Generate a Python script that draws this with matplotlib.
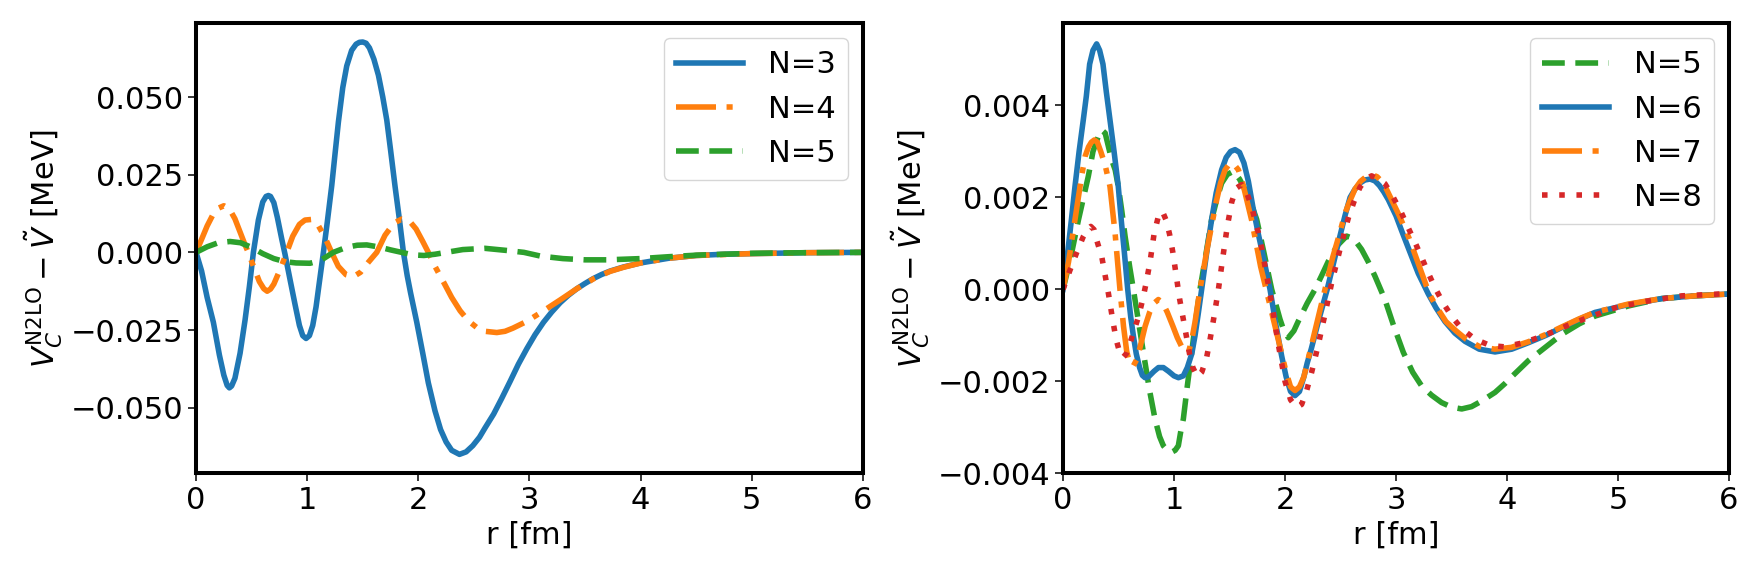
import numpy as np
import matplotlib
matplotlib.use("Agg")
import matplotlib.pyplot as plt
from matplotlib.ticker import MultipleLocator

# left panel: N=3, 4, 5  (r in fm, values in MeV)
r_n3 = [0.0, 0.05, 0.10, 0.156, 0.21, 0.25, 0.28, 0.30, 0.32, 0.35, 0.396, 0.441, 0.48, 0.516, 0.561,
        0.60, 0.63, 0.651, 0.67, 0.70, 0.732, 0.77, 0.80, 0.85, 0.891, 0.93, 0.96, 0.99, 1.02, 1.05,
        1.08, 1.11, 1.146, 1.18, 1.221, 1.25, 1.281, 1.32, 1.356, 1.40, 1.44, 1.47, 1.50, 1.53, 1.56,
        1.60, 1.641, 1.68, 1.716, 1.75, 1.791, 1.83, 1.866, 1.90, 1.93, 1.986, 2.04, 2.09, 2.15, 2.20,
        2.25, 2.30, 2.37, 2.43, 2.49, 2.55, 2.60, 2.678, 2.75, 2.826, 2.90, 2.976, 3.05, 3.126, 3.2,
        3.276, 3.35, 3.426, 3.5, 3.576, 3.65, 3.726, 3.846, 4.0, 4.25, 4.5, 4.75, 5.0, 5.5, 6.0]
v_n3 = [0.0, -0.006, -0.0145, -0.0225, -0.033, -0.0395, -0.0428, -0.0436, -0.0430, -0.0405, -0.0325,
        -0.0218, -0.011, 0.0, 0.0104, 0.0162, 0.0180, 0.0183, 0.0180, 0.0160, 0.0112, 0.0045, -0.0005,
        -0.0095, -0.0168, -0.0235, -0.0268, -0.0277, -0.0268, -0.0235, -0.0175, -0.0095, 0.0, 0.0095,
        0.0215, 0.0315, 0.0420, 0.0530, 0.0600, 0.0650, 0.0670, 0.0676, 0.0677, 0.0673, 0.0658,
        0.0622, 0.0570, 0.0500, 0.0426, 0.0330, 0.0211, 0.0105, 0.0, -0.0075, -0.013, -0.0225,
        -0.0325, -0.042, -0.051, -0.057, -0.061, -0.0637, -0.0650, -0.0642, -0.0622, -0.0595,
        -0.0565, -0.0520, -0.0470, -0.0415, -0.036, -0.031, -0.0265, -0.0225, -0.0192, -0.0162,
        -0.0138, -0.0117, -0.0100, -0.0084, -0.0071, -0.0060, -0.0047, -0.0034, -0.0019, -0.0010,
        -0.0006, -0.0004, -0.0001, 0.0]

r_n4 = [0.0, 0.05, 0.10, 0.15, 0.20, 0.25, 0.30, 0.35, 0.40, 0.44, 0.47, 0.52, 0.57, 0.61, 0.64, 0.67,
        0.70, 0.76, 0.816, 0.87, 0.93, 0.98, 1.04, 1.09, 1.16, 1.22, 1.28, 1.35, 1.416, 1.48, 1.55,
        1.626, 1.70, 1.78, 1.85, 1.92, 1.98, 2.04, 2.09, 2.15, 2.226, 2.30, 2.376, 2.45, 2.526, 2.60,
        2.706, 2.78, 2.85, 2.976, 3.126, 3.276, 3.426, 3.576, 3.726, 3.846, 4.0, 4.25, 4.5, 5.0, 5.5,
        6.0]
v_n4 = [0.0, 0.0042, 0.0085, 0.0120, 0.0142, 0.0150, 0.0140, 0.0108, 0.0062, 0.0025, 0.0, -0.0048,
        -0.0094, -0.0117, -0.0125, -0.0118, -0.0102, -0.0052, 0.0, 0.0052, 0.0090, 0.0104, 0.0106,
        0.0093, 0.0048, 0.0, -0.0045, -0.0072, -0.0078, -0.0064, -0.0032, 0.0, 0.0055, 0.0094,
        0.0107, 0.0101, 0.0075, 0.0035, 0.0, -0.0045, -0.0095, -0.0145, -0.0188, -0.0220, -0.0242,
        -0.0254, -0.0258, -0.0254, -0.0244, -0.0222, -0.0188, -0.0153, -0.0117, -0.0085, -0.0061,
        -0.0048, -0.0034, -0.0019, -0.0010, -0.0004, -0.0001, 0.0]

r_n5 = [0.0, 0.1, 0.2, 0.306, 0.4, 0.5, 0.6, 0.7, 0.8, 0.9, 1.026, 1.12, 1.236, 1.35, 1.45, 1.536, 1.65,
        1.75, 1.85, 1.95, 2.05, 2.15, 2.25, 2.4, 2.6, 2.8, 2.95, 3.1, 3.3, 3.5, 3.7, 4.0, 4.25, 4.5,
        4.75, 5.0, 5.5, 6.0]
v_n5 = [0.0, 0.0018, 0.0031, 0.0035, 0.0031, 0.0016, -0.0004, -0.002, -0.003, -0.0034, -0.0035,
        -0.0026, 0.0, 0.0016, 0.0023, 0.0024, 0.0017, 0.0008, 0.0, -0.0008, -0.001, -0.0006, 0.0,
        0.0009, 0.0013, 0.0006, 0.0, -0.0012, -0.002, -0.0024, -0.0024, -0.002, -0.0014, -0.0009,
        -0.0006, -0.0003, -0.0001, 0.0]

# right panel: N=5, 6, 7, 8
r_b5 = [0.0, 0.07, 0.138, 0.185, 0.228, 0.27, 0.318, 0.348, 0.38, 0.41, 0.438, 0.47, 0.498, 0.53,
        0.559, 0.60, 0.634, 0.68, 0.724, 0.78, 0.829, 0.87, 0.904, 0.94, 0.979, 1.01, 1.039, 1.06,
        1.084, 1.12, 1.159, 1.20, 1.234, 1.29, 1.339, 1.39, 1.429, 1.48, 1.535, 1.59, 1.64, 1.69,
        1.745, 1.81, 1.88, 1.955, 1.99, 2.03, 2.08, 2.12, 2.2, 2.27, 2.33, 2.39, 2.47, 2.555, 2.62,
        2.69, 2.75, 2.81, 2.9, 2.98, 3.066, 3.15, 3.231, 3.32, 3.41, 3.5, 3.592, 3.68, 3.77, 3.892,
        3.98, 4.042, 4.192, 4.35, 4.492, 4.65, 4.793, 5.093, 5.39, 5.69, 6.0]
v_b5 = [0.0, 0.0007, 0.0015, 0.0020, 0.00246, 0.0030, 0.00333, 0.00347, 0.0034, 0.0031, 0.00282,
        0.0026, 0.00224, 0.0017, 0.00116, 0.0005, 0.0, -0.0007, -0.00137, -0.0022, -0.00282, -0.0032,
        -0.0034, -0.0035, -0.00354, -0.0035, -0.0034, -0.0031, -0.00282, -0.0021, -0.00137, -0.0006,
        0.0, 0.0008, 0.00152, 0.0020, 0.00231, 0.0025, 0.00257, 0.0024, 0.00217, 0.0019, 0.00152,
        0.0008, 0.0, -0.00065, -0.0009, -0.00105, -0.0009, -0.00069, -0.0003, 0.0, 0.0003, 0.00061,
        0.00095, 0.00116, 0.0011, 0.00087, 0.0006, 0.00029, -0.00022, -0.0008, -0.00137, -0.0018,
        -0.0021, -0.0023, -0.00246, -0.00256, -0.0026, -0.00255, -0.00243, -0.00224, -0.00205,
        -0.0019, -0.00155, -0.00125, -0.00098, -0.00075, -0.00058, -0.00036, -0.0002, -0.00014,
        -0.0001]

r_b6 = [0.0, 0.042, 0.075, 0.108, 0.145, 0.183, 0.21, 0.24, 0.27, 0.303, 0.33, 0.36, 0.39, 0.423, 0.46,
        0.498, 0.525, 0.553, 0.583, 0.61, 0.634, 0.66, 0.69, 0.715, 0.739, 0.77, 0.82, 0.86, 0.904,
        0.95, 1.0, 1.04, 1.084, 1.12, 1.16, 1.189, 1.22, 1.249, 1.30, 1.339, 1.38, 1.429, 1.47, 1.51,
        1.55, 1.59, 1.63, 1.67, 1.71, 1.76, 1.805, 1.865, 1.92, 1.97, 2.01, 2.05, 2.09, 2.13, 2.17,
        2.20, 2.236, 2.30, 2.38, 2.44, 2.495, 2.54, 2.586, 2.63, 2.68, 2.72, 2.766, 2.81, 2.85, 2.89,
        2.931, 3.0, 3.05, 3.111, 3.2, 3.291, 3.36, 3.441, 3.53, 3.622, 3.75, 3.892, 4.042, 4.192,
        4.35, 4.492, 4.65, 4.793, 5.093, 5.393, 5.694, 6.0]
v_b6 = [0.0, 0.0008, 0.0015, 0.00224, 0.0030, 0.00369, 0.0042, 0.0049, 0.0052, 0.00534, 0.0052, 0.0049,
        0.0043, 0.00369, 0.0030, 0.00224, 0.0015, 0.0008, 0.0, -0.0006, -0.00101, -0.0014, -0.0017,
        -0.00187, -0.00192, -0.0019, -0.00178, -0.0017, -0.0017, -0.00178, -0.00188, -0.00192,
        -0.00188, -0.0017, -0.0014, -0.00101, -0.0005, 0.0, 0.0009, 0.00152, 0.0021, 0.0026, 0.00287,
        0.00300, 0.00304, 0.00298, 0.00275, 0.00235, 0.0018, 0.0012, 0.0007, 0.0, -0.0008, -0.00145,
        -0.0019, -0.00222, -0.00231, -0.00222, -0.0019, -0.0016, -0.0013, -0.0007, 0.0, 0.0006,
        0.00116, 0.0016, 0.0020, 0.00218, 0.00232, 0.00238, 0.0024, 0.00236, 0.00226, 0.00212,
        0.00195, 0.0016, 0.00128, 0.0009, 0.00035, -0.0001, -0.0004, -0.0007, -0.00095, -0.00113,
        -0.0013, -0.00136, -0.0013, -0.00116, -0.001, -0.00083, -0.00065, -0.0005, -0.00033, -0.0002,
        -0.00014, -0.0001]

r_b7 = [0.0, 0.05, 0.108, 0.17, 0.20, 0.23, 0.255, 0.282, 0.31, 0.34, 0.38, 0.423, 0.47, 0.513, 0.545,
        0.574, 0.60, 0.634, 0.67, 0.70, 0.74, 0.78, 0.82, 0.859, 0.90, 0.94, 0.99, 1.03, 1.08, 1.13,
        1.16, 1.19, 1.234, 1.30, 1.38, 1.42, 1.46, 1.505, 1.54, 1.58, 1.62, 1.66, 1.70, 1.74, 1.78,
        1.85, 1.92, 1.97, 2.01, 2.05, 2.09, 2.13, 2.17, 2.21, 2.25, 2.30, 2.37, 2.43, 2.49, 2.54,
        2.58, 2.63, 2.68, 2.73, 2.78, 2.83, 2.87, 2.91, 2.95, 3.03, 3.12, 3.21, 3.30, 3.37, 3.45,
        3.54, 3.63, 3.75, 3.89, 4.04, 4.19, 4.35, 4.49, 4.65, 4.79, 5.09, 5.39, 5.69, 6.0]
v_b7 = [0.0, 0.0006, 0.00152, 0.0025, 0.0029, 0.0031, 0.0032, 0.00325, 0.0032, 0.0030, 0.0027,
        0.00224, 0.0012, 0.0, -0.0008, -0.00135, -0.0016, -0.00166, -0.0015, -0.0012, -0.0008,
        -0.0005, -0.0003, -0.00022, -0.0003, -0.0005, -0.0008, -0.00105, -0.0013, -0.00137, -0.0011,
        -0.0007, 0.0, 0.0009, 0.0019, 0.00232, 0.0026, 0.00275, 0.00272, 0.0026, 0.0023, 0.0019,
        0.0015, 0.001, 0.0005, -0.0002, -0.0009, -0.0014, -0.0018, -0.00212, -0.0022, -0.00212,
        -0.0019, -0.0015, -0.0011, -0.0006, 0.0001, 0.0007, 0.0012, 0.00165, 0.0019, 0.00218,
        0.00235, 0.00245, 0.0025, 0.00245, 0.00235, 0.0022, 0.0020, 0.0016, 0.0011, 0.0005, -0.0001,
        -0.0004, -0.0007, -0.0009, -0.00108, -0.00124, -0.0013, -0.00126, -0.00114, -0.00098,
        -0.00082, -0.00064, -0.0005, -0.00032, -0.0002, -0.00014, -0.0001]

r_b8 = [0.0, 0.06, 0.123, 0.183, 0.22, 0.25, 0.28, 0.30, 0.35, 0.38, 0.41, 0.45, 0.48, 0.514, 0.54,
        0.57, 0.60, 0.634, 0.679, 0.715, 0.75, 0.784, 0.82, 0.86, 0.895, 0.93, 0.96, 0.99, 1.02, 1.05,
        1.08, 1.11, 1.14, 1.17, 1.21, 1.25, 1.294, 1.324, 1.36, 1.40, 1.44, 1.48, 1.52, 1.56, 1.61,
        1.655, 1.70, 1.73, 1.775, 1.82, 1.88, 1.94, 2.0, 2.05, 2.105, 2.15, 2.195, 2.24, 2.30, 2.36,
        2.42, 2.495, 2.57, 2.62, 2.675, 2.73, 2.78, 2.84, 2.9, 2.976, 3.05, 3.11, 3.17, 3.23, 3.29,
        3.35, 3.426, 3.5, 3.59, 3.71, 3.847, 3.98, 4.147, 4.28, 4.417, 4.55, 4.688, 4.973, 5.273,
        5.574, 6.0]
v_b8 = [0.0, 0.0004, 0.0008, 0.00115, 0.0013, 0.00137, 0.0013, 0.0011, 0.0007, 0.0003, -0.0001,
        -0.0007, -0.0011, -0.0014, -0.00148, -0.0014, -0.0012, -0.00094, -0.0006, -0.00025, 0.00015,
        0.0006, 0.0012, 0.0016, 0.0017, 0.0015, 0.0012, 0.0008, 0.0003, -0.0002, -0.0006, -0.001,
        -0.0014, -0.0017, -0.0019, -0.0018, -0.00148, -0.0011, -0.0006, 0.0, 0.0007, 0.00137, 0.0019,
        0.0022, 0.00228, 0.0021, 0.0018, 0.0015, 0.0011, 0.0005, -0.0003, -0.0012, -0.0020, -0.0024,
        -0.00257, -0.0025, -0.0022, -0.0018, -0.0012, -0.00054, 0.00014, 0.00087, 0.00155, 0.0019,
        0.00222, 0.0024, 0.00247, 0.0024, 0.0023, 0.0020, 0.00166, 0.00134, 0.00103, 0.0007, 0.00036,
        0.00004, -0.0003, -0.00058, -0.00085, -0.00108, -0.00122, -0.00125, -0.00116, -0.00105,
        -0.00092, -0.00078, -0.00065, -0.0004, -0.00025, -0.00014, -0.00009]

ylabel = r"$V_C^{\rm N2LO} - \tilde{V}$ [MeV]"
fs = 22
lw = 4.0
dash = (4.1, 1.9)
dashdot = (7.2, 1.9, 1.1, 1.9)
dot = (1.0, 2.1)

fig = plt.figure(figsize=(17.55, 5.74), dpi=100)
ax1 = fig.add_axes([0.1117, 0.1754, 0.380, 0.785])
ax2 = fig.add_axes([0.6057, 0.1754, 0.3795, 0.785])

ax1.plot(r_n3, v_n3, color="C0", ls="-", lw=lw, label="N=3")
ax1.plot(r_n4, v_n4, color="C1", ls="-.", dashes=dashdot, lw=lw, label="N=4")
ax1.plot(r_n5, v_n5, color="C2", ls="--", dashes=dash, lw=lw, label="N=5")
ax1.set_ylim(-0.0711, 0.0739)
ax1.yaxis.set_major_locator(MultipleLocator(0.025))

ax2.plot(r_b5, v_b5, color="C2", ls="--", dashes=dash, lw=lw, label="N=5")
ax2.plot(r_b6, v_b6, color="C0", ls="-", lw=lw, label="N=6")
ax2.plot(r_b7, v_b7, color="C1", ls="-.", dashes=dashdot, lw=lw, label="N=7")
ax2.plot(r_b8, v_b8, color="C3", ls=":", dashes=dot, lw=lw, label="N=8")
ax2.set_ylim(-0.0040, 0.0058)

for ax in (ax1, ax2):
    ax.set_xlim(0, 6)
    ax.set_xlabel("r [fm]", fontsize=fs)
    ax.set_ylabel(ylabel, fontsize=fs)
    ax.tick_params(labelsize=fs, length=5.5, width=1.1)
    for s in ax.spines.values():
        s.set_linewidth(2.9)
    ax.legend(loc="upper right", fontsize=fs, handlelength=2.2)

fig.savefig("out.png", dpi=100)
